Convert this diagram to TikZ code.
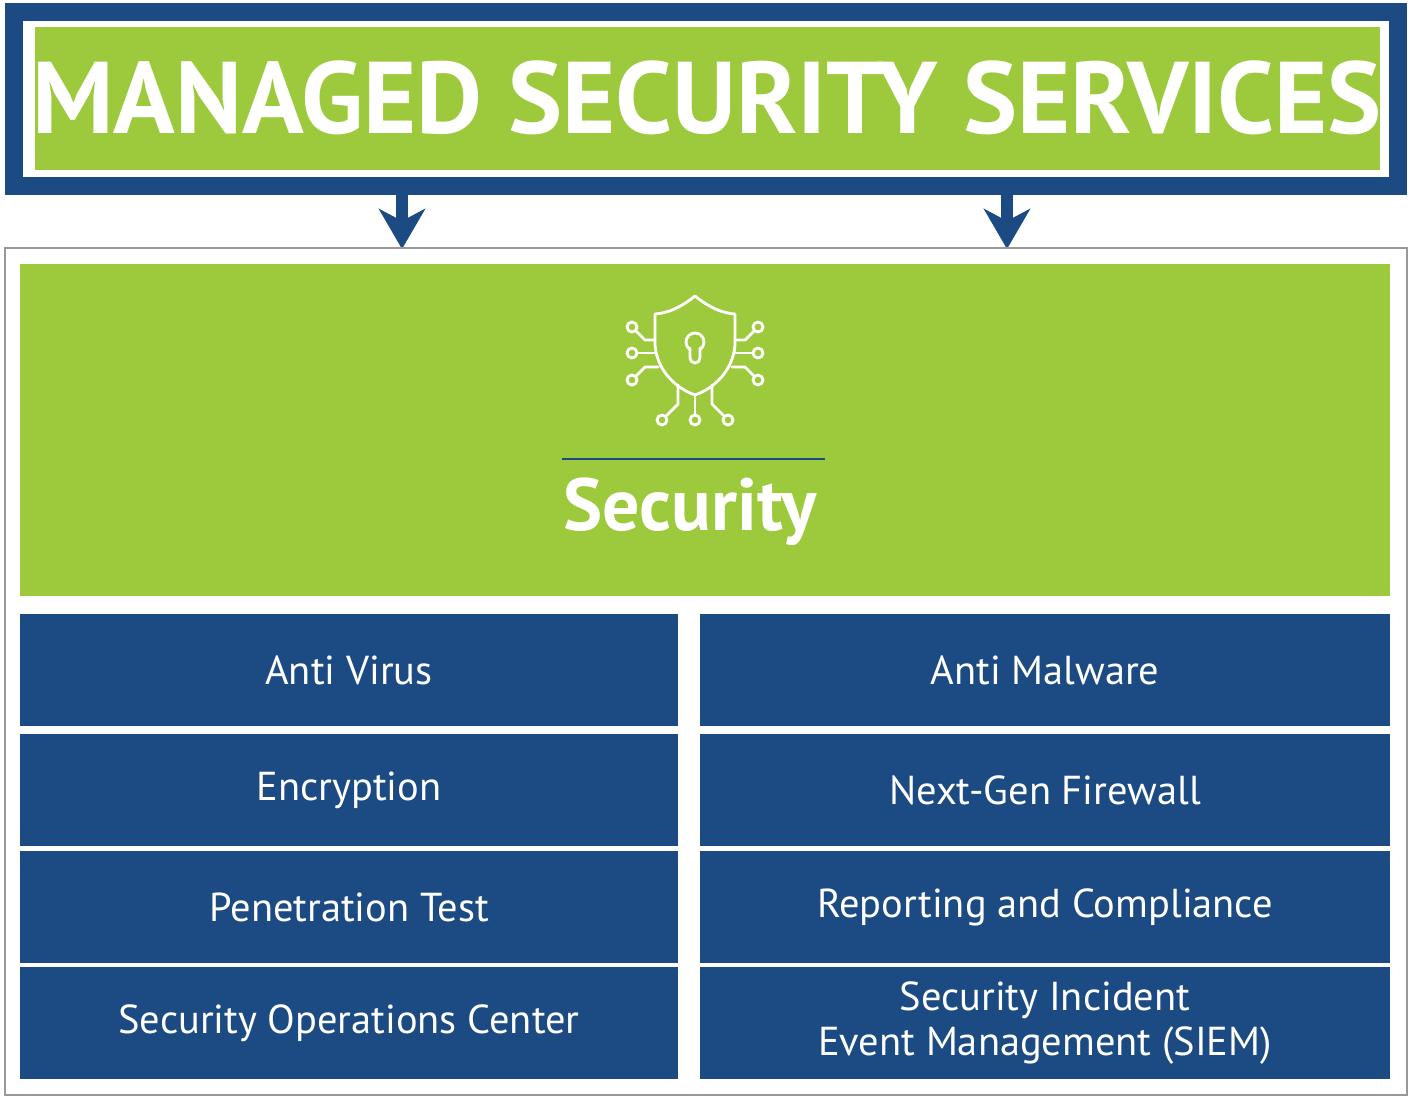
\documentclass[tikz,border=0pt]{standalone}
\usepackage{fontspec}
\setmainfont{PT Sans}
\usetikzlibrary{arrows.meta,positioning}
\definecolor{msblue}{RGB}{28,74,130}
\definecolor{msgreen}{RGB}{157,202,60}
\tikzset{
    >={Stealth[]},
    itembox/.style={fill=msblue,draw=none,minimum width=658*0.02cm,minimum height=112*0.02cm,
        inner sep=0pt,text=white,font=\fontsize{23}{30}\selectfont,align=center},
    itemboxr/.style={itembox,minimum width=690*0.02cm},
    downarrow/.style={draw=msblue,line width=12*0.02cm,-{Stealth[length=40*0.02cm,width=46*0.02cm,inset=12*0.02cm]}},
    iconline/.style={draw=white,line width=1.6pt,line join=round,line cap=round}
}
\begin{document}
\begin{tikzpicture}[x=0.02cm,y=-0.02cm]
    \useasboundingbox (0,0) rectangle (1412,1100);
    % Title frame
    \draw[msblue,line width=18*0.02cm] (14,12) rectangle (1398,186);
    \fill[msgreen] (35,27) rectangle (1380,170);
    \node[text=white,inner sep=0pt,font=\fontsize{58}{70}\selectfont\bfseries] (title) at (707,98) {MANAGED SECURITY SERVICES};
    % Arrows
    \coordinate (a1) at (402,195);
    \coordinate (a2) at (1007,195);
    \coordinate (b1) at (402,249);
    \coordinate (b2) at (1007,249);
    \draw[downarrow] (a1) -- (b1);
    \draw[downarrow] (a2) -- (b2);
    % Panel
    \draw[gray!80,line width=2*0.02cm] (5,248) rectangle (1407,1095);
    \node[fill=msgreen,minimum width=1370*0.02cm,minimum height=332*0.02cm,inner sep=0pt] (panel) at (705,430) {};
    % Icon
    \begin{scope}[iconline]
        \draw (695,296) .. controls (680,308) and (668,313) .. (655,314)
            -- (655,345) .. controls (657,370) and (675,388) .. (695,395)
            .. controls (715,388) and (733,370) .. (735,345) -- (735,314)
            .. controls (722,313) and (710,308) .. (695,296) -- cycle;
        \draw (695,342) circle (9);
        \draw[fill=msgreen] (690,348) -- (690,358) arc (180:0:5) -- (700,348);
        \foreach \s in {1,-1} {
            \draw (695+\s*-63,327) circle (5);
            \draw (695+\s*-63,353) circle (5);
            \draw (695+\s*-63,380) circle (5);
            \draw (695+\s*-59,331) -- (695+\s*-50,340) -- (695+\s*-40,340);
            \draw (695+\s*-58,353) -- (695+\s*-40,353);
            \draw (695+\s*-59,376) -- (695+\s*-50,367) -- (695+\s*-37,367);
            \draw (695+\s*-33,420) circle (5);
            \draw (695+\s*-17,385) -- (695+\s*-17,404) -- (695+\s*-29,416);
        }
        \draw (695,420) circle (5);
        \draw (695,395) -- (695,415);
    \end{scope}
    \draw[msblue,line width=2.5*0.02cm] (562,459) -- (825,459);
    \node[text=white,font=\fontsize{42}{50}\selectfont\bfseries] (sec) at (690,512) {Security};
    % Items
    \node[itembox] (av) at (349,670) {Anti Virus};
    \node[itembox] (enc) at (349,790) {Encryption};
    \node[itembox] (pen) at (349,907) {Penetration Test};
    \node[itembox] (soc) at (349,1023) {Security Operations Center};
    \node[itemboxr] (am) at (1045,670) {Anti Malware};
    \node[itemboxr] (fw) at (1045,790) {Next-Gen Firewall};
    \node[itemboxr] (rep) at (1045,907) {Reporting and Compliance};
    \node[itemboxr] (siem) at (1045,1023) {Security Incident\\[-4pt]Event Management (SIEM)};
\end{tikzpicture}
\end{document}
